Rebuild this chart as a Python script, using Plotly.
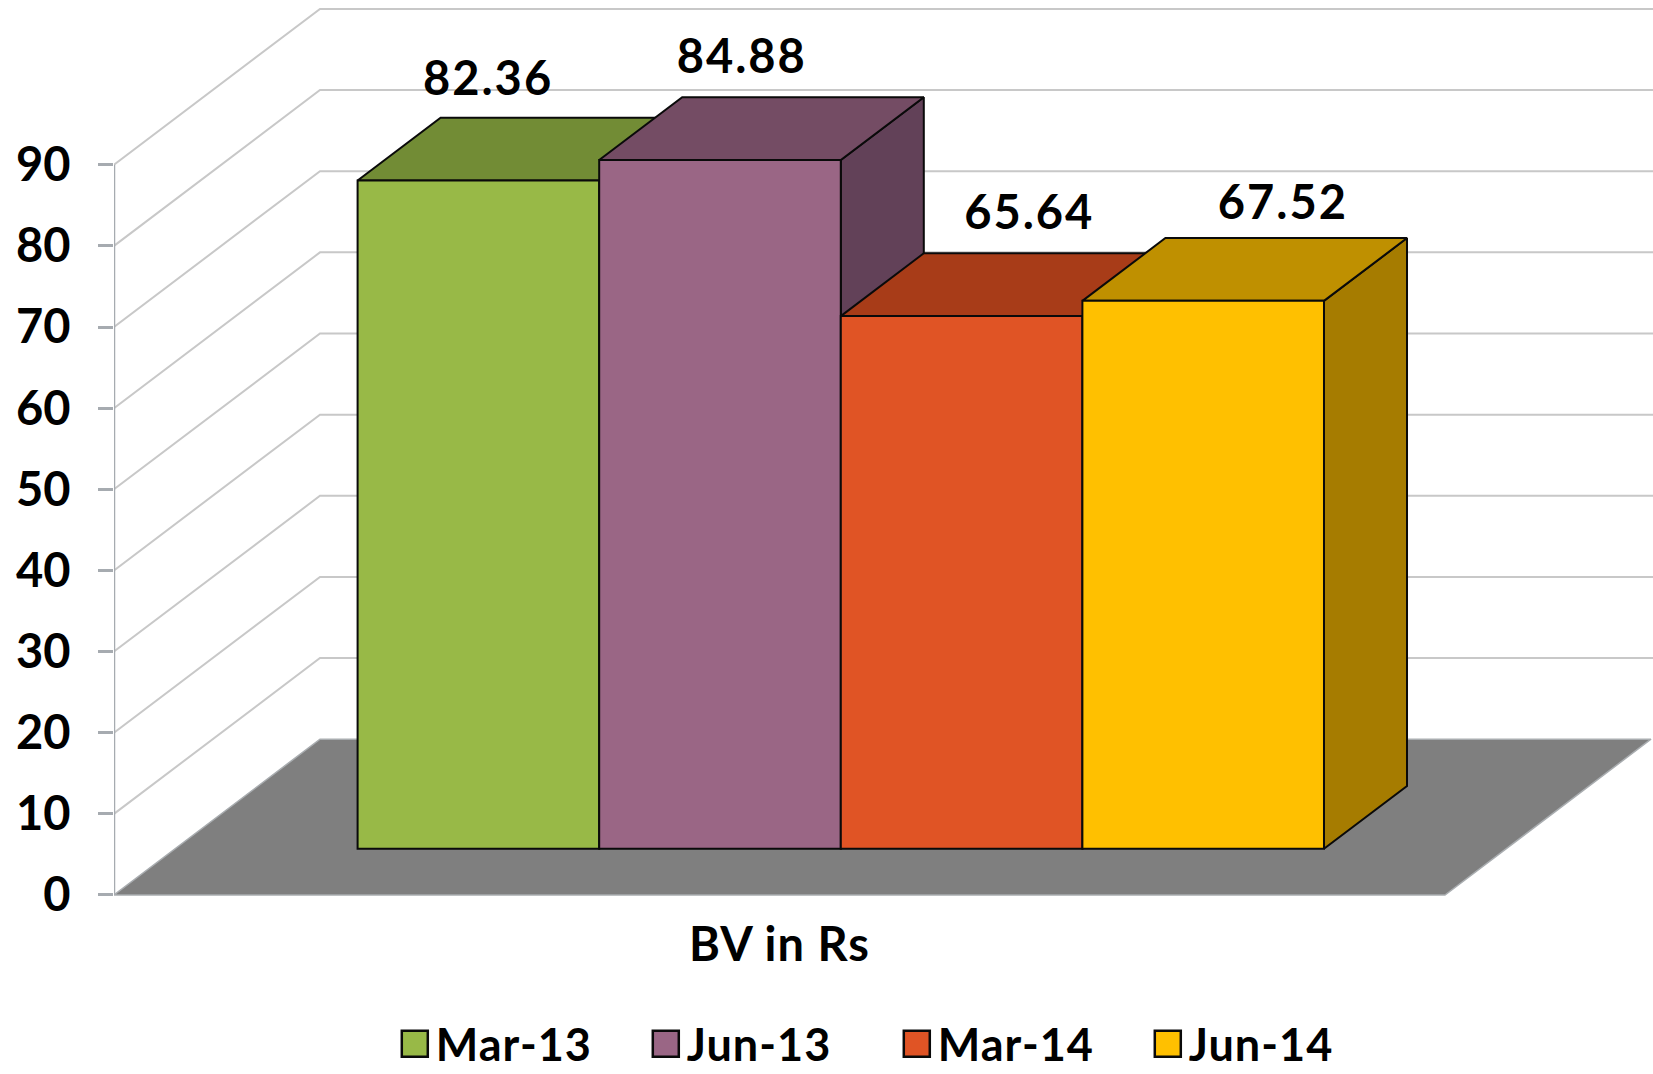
import plotly.graph_objects as go

# --- data ---
categories = ["Mar-13", "Jun-13", "Mar-14", "Jun-14"]
values = [82.36, 84.88, 65.64, 67.52]
y_ticks = [0, 10, 20, 30, 40, 50, 60, 70, 80, 90]
axis_label = "BV in Rs"

# --- colours ---
front_colors = ["#98B947", "#9A6685", "#E05425", "#FFC000"]
top_colors = ["#728C35", "#744C64", "#A83C18", "#BF9000"]
side_colors = ["#5F752C", "#624158", "#8E3314", "#A67C00"]
GRID = "#C8C8C8"; AXIS = "#A6ABB0"; FLOOR = "#7F7F7F"; EDGE = "#0A0A0A"
FONT = "Lato"; FS = 47

# --- oblique-projection geometry (x in bar widths, y in value units) ---
DEPTH_X, DEPTH_Y = 0.8526, 19.2      # shift of the full floor depth
FLOOR_W = 5.509                      # floor width
GAP = 0.755                          # gap before the first bar
BAR_Z0, BAR_Z1 = 0.297, 0.70         # front / back of the bars in depth
WALL_END = 6.37
label_dx = [0.04, 0.09, 0.28, 0.33]
label_dy = [4.3, 4.45, 4.45, 3.8]

def P(x, v, z):
    return x + z * DEPTH_X, v + z * DEPTH_Y

def poly(points, color, line=EDGE, lw=2):
    xs = [p[0] for p in points] + [points[0][0]]
    ys = [p[1] for p in points] + [points[0][1]]
    return go.Scatter(x=xs, y=ys, mode="lines", fill="toself", fillcolor=color,
                      line=dict(color=line, width=lw), hoverinfo="skip",
                      showlegend=False, cliponaxis=False)

fig = go.Figure()

# back wall grid
for t in y_ticks:
    a = P(0, t, 0); b = P(0, t, 1)
    if t > 0:
        fig.add_trace(go.Scatter(x=[a[0], b[0], WALL_END], y=[a[1], b[1], b[1]], mode="lines",
                                 line=dict(color=GRID, width=2), hoverinfo="skip",
                                 showlegend=False, cliponaxis=False))
# floor
fig.add_trace(poly([P(0, 0, 0), P(FLOOR_W, 0, 0), P(FLOOR_W, 0, 1), P(0, 0, 1)], FLOOR, line="#A9ADB0", lw=1.5))
# value axis line
fig.add_trace(go.Scatter(x=[0, 0], y=[0, y_ticks[-1]], mode="lines", line=dict(color=AXIS, width=2.5),
                         hoverinfo="skip", showlegend=False, cliponaxis=False))

# side and top faces, left to right
for i, v in enumerate(values):
    x0 = GAP + i; x1 = x0 + 1
    fig.add_trace(poly([P(x1, 0, BAR_Z0), P(x1, 0, BAR_Z1), P(x1, v, BAR_Z1), P(x1, v, BAR_Z0)], side_colors[i]))
    fig.add_trace(poly([P(x0, v, BAR_Z0), P(x1, v, BAR_Z0), P(x1, v, BAR_Z1), P(x0, v, BAR_Z1)], top_colors[i]))

# front faces: real bars on an overlay axis pair, so that they sit above the side faces
for i, (c, v) in enumerate(zip(categories, values)):
    xf, base = P(GAP + i, 0, BAR_Z0)
    fig.add_trace(go.Bar(x=[xf + 0.5], y=[v], base=[base], width=[1], name=c, xaxis="x2", yaxis="y2",
                         marker=dict(color=front_colors[i], line=dict(color=EDGE, width=2)),
                         hoverinfo="skip"))

# value labels
lx, ly = [], []
for i, v in enumerate(values):
    xf, vb = P(GAP + i, v, BAR_Z1)
    lx.append(P(GAP + i, 0, BAR_Z0)[0] + 0.5 + label_dx[i])
    ly.append(vb + label_dy[i])
fig.add_trace(go.Scatter(x=lx, y=ly, mode="text", text=[f"{v:.2f}" for v in values],
                         textposition="middle center", xaxis="x2", yaxis="y2",
                         textfont=dict(family=FONT, size=FS, color="#000000", weight="bold"),
                         hoverinfo="skip", showlegend=False, cliponaxis=False))

x_range = [0, WALL_END]
y_range = [-1.85, 110.3]
fig.update_layout(
    width=1653, height=1074, autosize=False,
    margin=dict(l=114, r=0, t=0, b=164, pad=0),
    paper_bgcolor="white", plot_bgcolor="white",
    barmode="overlay",
    font=dict(family=FONT, size=FS, color="#000000", weight="bold"),
    xaxis=dict(range=x_range, fixedrange=True, showgrid=False, zeroline=False, showline=False,
               tickmode="array", tickvals=[FLOOR_W / 2], ticktext=[axis_label], ticks="",
               ticklabelstandoff=3),
    yaxis=dict(range=y_range, fixedrange=True, showgrid=False, zeroline=False, showline=False,
               tickmode="array", tickvals=y_ticks, ticks="outside", ticklen=15, tickwidth=2.5,
               tickcolor=AXIS, ticklabelstandoff=18),
    xaxis2=dict(range=x_range, overlaying="x", visible=False, fixedrange=True),
    yaxis2=dict(range=y_range, overlaying="y", visible=False, fixedrange=True),
    legend=dict(orientation="h", xref="paper", yref="container", x=0.1818, y=0.0, xanchor="left", yanchor="bottom",
                entrywidth=204, entrywidthmode="pixels", itemwidth=32, traceorder="normal",
                font=dict(family=FONT, size=FS-2, color="#000000", weight="bold"),
                bgcolor="rgba(0,0,0,0)"),
)

post = """
document.body.style.margin='0';document.documentElement.style.overflow='hidden';
document.querySelectorAll('.legendbar path, .legendpoints path').forEach(function(p){
  p.setAttribute('d','M13,13H-13V-13H13Z');p.style.strokeWidth='2.5px';
});
document.querySelectorAll('.textpoint text').forEach(function(t){t.style.letterSpacing='2px';});
document.querySelectorAll('.xtick text').forEach(function(t){t.style.letterSpacing='1px';});
document.querySelectorAll('.legendtext').forEach(function(t){t.style.letterSpacing='1px';});
document.querySelectorAll('.legend').forEach(function(l){
  var tr=l.getAttribute('transform');
  var m=/translate\\(([-\\d.]+),\\s*([-\\d.]+)\\)/.exec(tr);
  if(m){l.setAttribute('transform','translate('+m[1]+','+(parseFloat(m[2])+6)+')');}
});
"""
fig.write_html("out.html", post_script=post, config={"displayModeBar": False})
